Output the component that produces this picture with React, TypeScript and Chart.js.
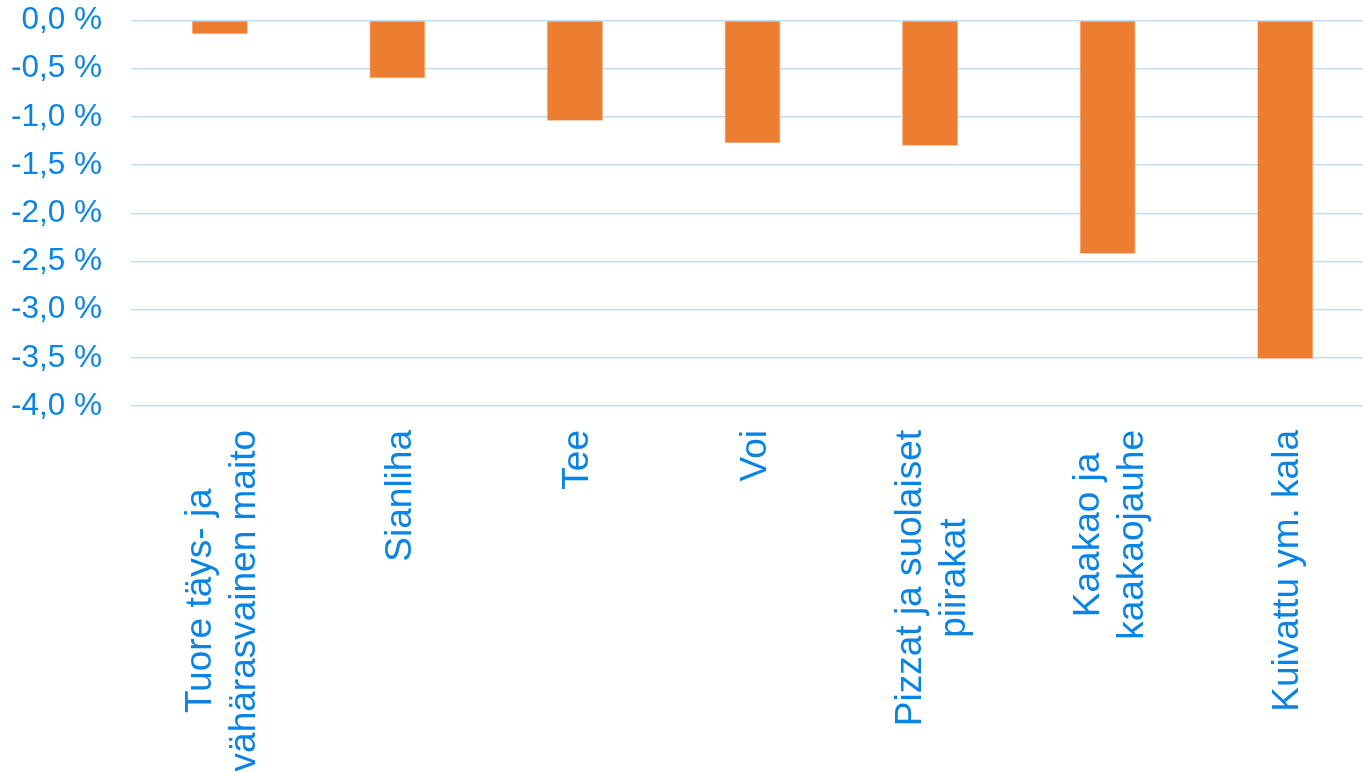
import React, { useEffect, useRef } from "react";
import { Chart, registerables } from "chart.js";

Chart.register(...registerables);

const categories: string[][] = [
  ["Tuore täys- ja", "vähärasvainen maito"],
  ["Sianliha"],
  ["Tee"],
  ["Voi"],
  ["Pizzat ja suolaiset", "piirakat"],
  ["Kaakao ja", "kaakaojauhe"],
  ["Kuivattu ym. kala"],
];

const values: number[] = [-0.14, -0.6, -1.04, -1.27, -1.3, -2.42, -3.51];

const yMin = -4.0;
const yMax = 0.0;
const yStep = 0.5;

const BLUE = "#0A84E4";
const ORANGE = "#ED7D31";
const GRID = "#C0DEF8";
const FONT = "'Liberation Sans', Arial, sans-serif";

const xLabelPlugin = {
  id: "xLabelPlugin",
  afterDraw(chart: any) {
    const scale = chart.scales.x;
    const ctx = chart.ctx;
    const fontSize = 37;
    const lineH = fontSize * 1.2;
    const topY = chart.chartArea.bottom + 24;
    ctx.save();
    ctx.font = `${fontSize}px ${FONT}`;
    ctx.fillStyle = BLUE;
    ctx.textAlign = "center";
    ctx.textBaseline = "middle";
    categories.forEach((lines, i) => {
      const x = scale.getPixelForTick(i) + 3;
      const maxW = Math.max(...lines.map((l) => ctx.measureText(l).width));
      ctx.save();
      ctx.translate(x, topY);
      ctx.rotate(-Math.PI / 2);
      lines.forEach((line, j) => {
        const off = (j - (lines.length - 1) / 2) * lineH;
        ctx.fillText(line, -maxW / 2, off);
      });
      ctx.restore();
    });
    ctx.restore();
  },
};

export default function App() {
  const ref = useRef<HTMLCanvasElement | null>(null);

  useEffect(() => {
    if (!ref.current) return;
    const chart = new Chart(ref.current, {
      type: "bar",
      data: {
        labels: categories.map((c) => c.join(" ")),
        datasets: [
          {
            data: values,
            backgroundColor: ORANGE,
            borderColor: "#F5A772",
            borderWidth: 0.8,
            barPercentage: 0.315,
            categoryPercentage: 1,
          },
        ],
      },
      options: {
        animation: false,
        responsive: true,
        maintainAspectRatio: false,
        layout: { padding: { top: 20.5, right: 0, left: 0, bottom: 0 } },
        plugins: {
          legend: { display: false },
          tooltip: { enabled: false },
        },
        scales: {
          x: {
            grid: { display: false },
            border: { display: false },
            ticks: { display: false },
            afterFit(scale: any) {
              scale.height = 367;
            },
          },
          y: {
            min: yMin,
            max: yMax,
            grid: { color: GRID, lineWidth: 1.5, drawTicks: false },
            border: { display: false },
            ticks: {
              stepSize: yStep,
              padding: 29,
              color: BLUE,
              font: { family: FONT, size: 31.5 },
              callback: (v: any) =>
                Number(v).toFixed(1).replace(".", ",") + " %",
            },
            afterFit(scale: any) {
              scale.width = 131;
              scale.paddingTop = 0;
              scale.paddingBottom = 0;
            },
          },
        },
      },
      plugins: [xLabelPlugin],
    });
    return () => chart.destroy();
  }, []);

  return (
    <div
      style={{
        position: "fixed",
        left: 0,
        top: 0,
        width: 1363,
        height: 773,
        overflow: "hidden",
        background: "#fff",
      }}
    >
      <div style={{ position: "relative", width: 1374, height: 773 }}>
        <canvas ref={ref} />
      </div>
    </div>
  );
}
